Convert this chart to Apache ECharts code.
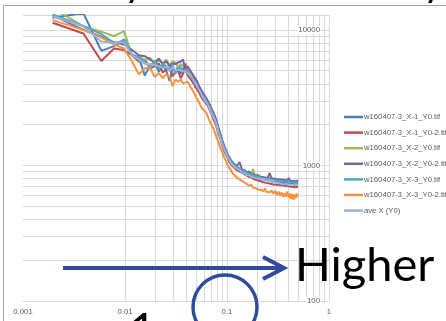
<!DOCTYPE html>
<html><head><meta charset="utf-8">
<script src="https://cdn.jsdelivr.net/npm/echarts@6/dist/echarts.min.js"></script>
<style>html,body{margin:0;padding:0;background:#fff}#c{width:446px;height:321px}</style>
</head><body><div id="c"></div>
<script>
const freq = [0.00195,0.00391,0.00586,0.00781,0.00977,0.01172,0.01367,0.01563,0.01758,0.01953,0.02148,0.02344,0.02539,0.02734,0.0293,0.03125,0.0332,0.03516,0.03711,0.03906,0.04102,0.04297,0.04492,0.04688,0.04883,0.05078,0.05273,0.05469,0.05664,0.05859,
0.0625,0.06641,0.07031,0.07422,0.07813,0.08203,0.08594,0.08984,0.09375,0.09766,0.10156,0.10547,0.10938,0.11328,0.11719,0.12109,0.125,
0.13281,0.14063,0.14844,0.15625,0.16406,0.17188,0.17969,0.1875,0.19531,0.20313,0.21094,0.21875,0.22656,0.23438,0.24219,0.25,
0.26172,0.27344,0.28516,0.29688,0.30859,0.32031,0.33203,0.34375,0.35547,0.36719,0.37891,0.39063,0.40234,0.41406,0.42578,0.4375,0.44922,0.46094,0.47266,0.48438,0.49609];

const seriesNames = ['w160407-3_X-1_Y0.tif','w160407-3_X-1_Y0-2.tif','w160407-3_X-2_Y0.tif','w160407-3_X-2_Y0-2.tif','w160407-3_X-3_Y0.tif','w160407-3_X-3_Y0-2.tif','ave X (Y0)'];
const seriesColors = ['#4a7ebb','#be4b48','#98b954','#7d60a0','#46aac5','#f69240','#9ab2dd'];

const x1y0 = [12300,13300,7000,7600,8500,6500,6300,4600,5500,5750,4900,5600,5000,4200,5300,4850,5400,4750,5200,4900,5000,4500,4500,4000,4200,3800,3900,3400,3450,3100,
2950,2800,2450,2350,2000,1850,1600,1480,1300,1270,1150,1120,1040,1050,990,1000,950,
948,884,915,858,872,842,861,812,836,806,824,793,812,785,801,778,
795,762,781,758,790,747,772,751,768,736,774,741,756,733,761,724,750,731,744,726,741];
const x1y02 = [11300,9400,5900,7300,7100,6500,5850,6050,5200,5400,5650,4850,5100,5200,4550,4900,5000,4400,4750,5650,4650,4400,4300,4200,3800,3800,3500,3450,3150,3100,
2850,2650,2400,2150,1980,1720,1580,1400,1290,1200,1140,1060,1030,990,970,940,935,
900,880,862,840,822,832,798,806,782,792,768,776,752,771,744,760,
736,751,724,746,719,741,716,734,711,731,706,727,701,723,697,719,694,716,690,711,700];
const x2y0 = [14500,10600,9700,9000,9800,6500,6400,5950,6250,5600,5950,5650,6050,5500,5850,5750,5300,5600,5400,5200,5300,4950,4800,4500,4300,4100,3900,3650,3500,3300,
3100,2850,2600,2400,2150,1880,1700,1520,1380,1290,1210,1130,1090,1060,1020,1010,980,
960,920,932,878,902,862,940,848,836,858,821,831,809,826,801,815,
808,786,801,779,796,774,791,769,786,764,781,761,777,757,772,754,769,751,766,749,760];
const x2y02 = [12800,10000,8900,8100,7800,7100,6500,6400,6050,5750,6150,5600,5850,5400,5650,5600,5750,5850,6050,5000,5400,5100,5000,4600,4400,4200,3900,3800,3550,3400,
3150,2900,2650,2420,2200,1930,1720,1540,1400,1300,1200,1150,1090,1070,1030,1010,990,
1060,930,915,890,905,870,880,852,868,836,851,824,846,816,834,808,
880,801,821,793,814,789,807,785,804,781,799,776,810,772,795,769,789,766,787,763,779];
const x3y0 = [13000,10700,9300,8000,8300,6600,6250,5850,5300,5950,5100,5650,5400,5100,5500,4750,5200,5300,4950,5100,4750,4600,4600,4300,4100,3950,3700,3550,3350,3250,
3020,2780,2520,2300,2080,1820,1640,1470,1340,1260,1180,1110,1070,1040,1010,990,970,
946,914,902,879,871,858,846,839,831,821,816,811,806,799,798,791,
792,783,786,775,778,769,771,763,766,757,762,753,758,749,754,747,751,743,749,741,747];
const x3y02 = [11800,10000,8800,7800,7300,5850,4700,5200,5300,4500,4800,4400,4700,4500,3850,4300,4150,4300,4050,4100,4150,3900,3800,3500,3300,3200,2950,2900,2650,2600,
2450,2200,2000,1850,1650,1500,1350,1250,1150,1080,1000,960,930,880,870,830,840,
790,770,748,731,708,722,688,701,674,689,661,679,648,676,640,661,
630,655,618,648,604,640,598,631,585,626,590,641,578,621,568,615,559,611,573,621,588];
const aveX = [12600,10600,8200,8000,8100,6500,6050,5600,5600,5500,5400,5250,5350,4950,5300,5050,5100,5000,4950,4950,4850,4650,4600,4250,4050,3850,3650,3500,3300,3150,
2920,2700,2450,2250,2040,1780,1600,1440,1320,1230,1150,1090,1040,1010,980,960,945,
925,885,878,848,848,830,833,810,808,800,793,790,782,790,772,770,
775,757,756,746,745,740,737,735,729,727,728,728,725,722,720,720,716,716,716,715,716];

const xTickLabels = ['0.001','0.01','0.1','1'];
const yTickLabels = ['100','1000','10000'];
const yMax = 12882;

const allValues = [x1y0,x1y02,x2y0,x2y02,x3y0,x3y02,aveX];

// minor + major gridlines (log grid)
const vLines = [], hLines = [];
for (let e = -3; e < 0; e++) for (let k = 1; k <= 9; k++) vLines.push({xAxis: +(k * Math.pow(10, e)).toPrecision(3)});
vLines.push({xAxis: 1});
for (let e = 2; e < 5; e++) for (let k = 1; k <= 9; k++) { const v = k * Math.pow(10, e); if (v <= yMax) hLines.push({yAxis: v}); }
hLines.push({yAxis: yMax});

const series = allValues.map((vals, i) => ({
  name: seriesNames[i], type: 'line', symbol: 'none', showSymbol: false,
  data: vals.map((v, j) => [freq[j], v]),
  lineStyle: {color: seriesColors[i], width: 2}, itemStyle: {color: seriesColors[i]},
  clip: true, z: 2
}));
series.unshift({
  name: 'grid', type: 'line', data: [], silent: true, z: 1,
  markLine: {silent: true, symbol: ['none','none'], label: {show: false}, z: 1, animation: false,
    lineStyle: {color: '#d9d9d9', width: 1, type: 'solid'}, emphasis: {disabled: true},
    data: vLines.concat(hLines)}
});

const blue = '#2f4b9c';
const option = {
  animation: false,
  backgroundColor: '#fff',
  grid: {left: 23, right: 117, top: 15, bottom: 20},
  xAxis: {type: 'log', logBase: 10, min: 0.001, max: 1,
    axisLine: {show: false}, axisTick: {show: false}, splitLine: {show: false},
    axisLabel: {fontSize: 7.8, color: '#595959', fontFamily: 'Liberation Sans', margin: 7,
      formatter: v => { const l = Math.round(Math.log10(v)); return xTickLabels[l + 3] || ''; }}},
  yAxis: {type: 'log', logBase: 10, min: 100, max: yMax, position: 'right', z: 10,
    axisLine: {show: false}, axisTick: {show: false}, splitLine: {show: false},
    axisLabel: {inside: true, margin: 8, fontSize: 7.8, color: '#595959', fontFamily: 'Liberation Sans',
      backgroundColor: '#fff', padding: [0, 1],
      formatter: v => { const l = Math.log10(v); if (Math.abs(l - Math.round(l)) > 1e-6) return ''; return yTickLabels[Math.round(l) - 2] || ''; }}},
  legend: {orient: 'vertical', left: 344, top: 112, padding: 0, itemWidth: 19, itemHeight: 2.5, itemGap: 5.6, icon: 'rect',
    data: seriesNames, selectedMode: false,
    textStyle: {fontSize: 7.7, color: '#595959', fontFamily: 'Liberation Sans', lineHeight: 10, padding: [0, 0, 0, -4]}},
  series: series,
  graphic: [
    {type: 'line', shape: {x1: 3.5, y1: 5.5, x2: 446, y2: 5.5}, style: {stroke: '#a6a6a6', lineWidth: 1}},
    {type: 'line', shape: {x1: 3.5, y1: 5.5, x2: 3.5, y2: 321}, style: {stroke: '#a6a6a6', lineWidth: 1}},
    {type: 'text', x: 124, y: -17, style: {text: 'y', fontSize: 40, fontFamily: 'Lato', fill: '#000', verticalAlign: 'middle'}},
    {type: 'text', x: 423, y: -17, style: {text: 'y', fontSize: 40, fontFamily: 'Lato', fill: '#000', verticalAlign: 'middle'}},
    {type: 'line', shape: {x1: 63, y1: 268, x2: 282, y2: 268}, style: {stroke: blue, lineWidth: 4}, z: 50},
    {type: 'polyline', shape: {points: [[263, 257], [284, 268], [263, 279]]}, style: {stroke: blue, lineWidth: 4, fill: null}, z: 50},
    {type: 'circle', shape: {cx: 225, cy: 307, r: 32}, style: {stroke: blue, lineWidth: 3.5, fill: null}, z: 50},
    {type: 'text', x: 295, y: 265.5, style: {text: 'Higher', fontSize: 47, fontFamily: 'Lato', fill: '#000', verticalAlign: 'middle'}, z: 50},
    {type: 'text', x: 129, y: 331, style: {text: '1', fontSize: 47, fontFamily: 'Lato', fill: '#000', verticalAlign: 'middle'}, z: 50}
  ]
};
const chart = echarts.init(document.getElementById('c'), null, {renderer: 'canvas'});
chart.setOption(option);
</script></body></html>
